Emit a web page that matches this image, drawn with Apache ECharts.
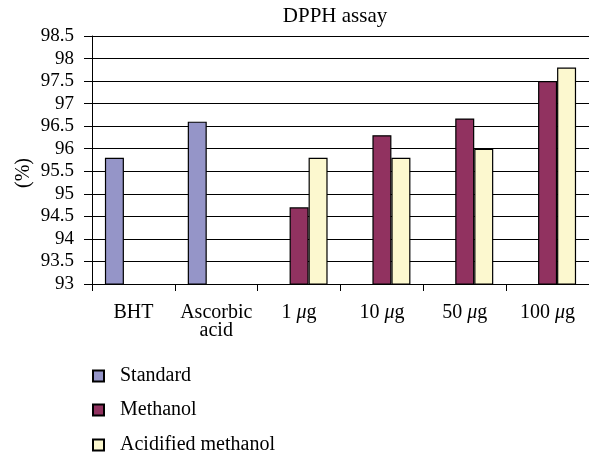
<!DOCTYPE html>
<html><head><meta charset="utf-8">
<script src="https://cdn.jsdelivr.net/npm/echarts@6/dist/echarts.min.js"></script>
<style>html,body{margin:0;padding:0;background:#fff}#c{width:589px;height:454px}</style>
</head><body><div id="c"></div>
<script>
var categories = ['BHT', 'Ascorbic\nacid', '1 μg', '10 μg', '50 μg', '100 μg'];
var standard = [95.8, 96.6, null, null, null, null];
var methanol = [null, null, 94.7, 96.3, 96.67, 97.5];
var acidified = [null, null, 95.8, 95.8, 96.0, 97.8];
var seriesNames = ['Standard', 'Methanol', 'Acidified methanol'];
var yTicks = {min: 93, max: 98.5, interval: 0.5};

var F = 'Liberation Serif';
var chart = echarts.init(document.getElementById('c'), null, {renderer: 'canvas'});
function bar(name, data, color) {
  return {name: name, type: 'bar', data: data, barWidth: 19, barGap: '0%',
    itemStyle: {color: color, borderColor: '#000', borderWidth: 1.2}};
}
var legendTops = [366, 400, 435];
var legends = seriesNames.map(function (n, i) {
  return {orient: 'vertical', left: 92, top: legendTops[i], padding: 0, itemWidth: 11, itemHeight: 11,
    icon: 'rect', selectedMode: false,
    textStyle: {fontFamily: F, fontSize: 20, lineHeight: 20, color: '#000', padding: [0, 0, 0, 11]},
    data: [n]};
});
chart.setOption({
  animation: false,
  backgroundColor: '#fff',
  title: {text: 'DPPH assay', left: 330, textAlign: 'center', top: 1,
    textStyle: {fontFamily: F, fontSize: 21, fontWeight: 'normal', color: '#000'}},
  grid: {left: 92, top: 36, width: 501, height: 248, containLabel: false},
  legend: legends,
  xAxis: {type: 'category', data: categories,
    axisLine: {lineStyle: {color: '#000', width: 1}},
    axisTick: {show: true, length: 7, lineStyle: {color: '#000'}},
    axisLabel: {fontFamily: F, fontSize: 20, color: '#000', margin: 20, lineHeight: 18, interval: 0,
      formatter: function (v) {
        if (v.indexOf('μ') >= 0) { var p = v.split('μ'); return '{n|' + p[0] + '}{i|μ}{n|' + p[1] + '}'; }
        return v;
      },
      rich: {n: {fontFamily: F, fontSize: 20, lineHeight: 18, color: '#000'},
             i: {fontFamily: F, fontSize: 20, lineHeight: 18, fontStyle: 'italic', color: '#000'}}}
  },
  yAxis: {type: 'value', min: yTicks.min, max: yTicks.max, interval: yTicks.interval,
    axisLine: {show: true, lineStyle: {color: '#000'}},
    axisTick: {show: true, length: 8, lineStyle: {color: '#000'}},
    axisLabel: {fontFamily: F, fontSize: 19, color: '#000', margin: 18},
    splitLine: {lineStyle: {color: '#000', width: 1}}
  },
  graphic: [{type: 'text', left: 14, top: 158, rotation: Math.PI / 2,
    style: {text: '(%)', font: '20px "Liberation Serif"', fill: '#000'}}],
  series: [bar(seriesNames[0], standard, '#9595C8'), bar(seriesNames[1], methanol, '#913260'), bar(seriesNames[2], acidified, '#FCF8CF')]
});
</script></body></html>
